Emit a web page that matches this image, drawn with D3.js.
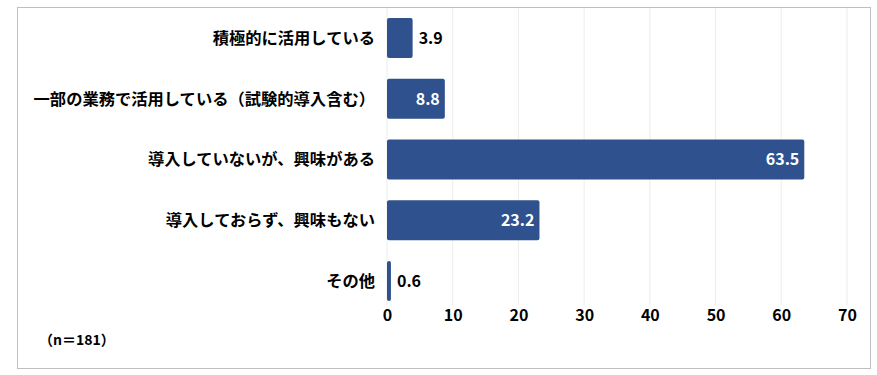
<!DOCTYPE html>
<html><head><meta charset="utf-8">
<script src="https://cdn.jsdelivr.net/npm/d3@7"></script>
<style>body{margin:0;background:#fff}svg{display:block}</style>
</head><body>
<script>
const categories = ["積極的に活用している","一部の業務で活用している（試験的導入含む）","導入していないが、興味がある","導入しておらず、興味もない","その他"];
const values = [3.9, 8.8, 63.5, 23.2, 0.6];
const ticks = [0,10,20,30,40,50,60,70];
const note = "（n＝181）";

const W = 877, H = 375;
const font = "'Noto Sans CJK JP','Noto Sans',sans-serif";
const svg = d3.select("body").append("svg").attr("width", W).attr("height", H);
svg.append("rect").attr("x",17.5).attr("y",7.5).attr("width",853).attr("height",361)
  .attr("fill","#fff").attr("stroke","#bfbfbf").attr("stroke-width",1);

const x = d3.scaleLinear().domain([0,70]).range([387,847]);
const y = d3.scaleBand().domain(categories).range([7.6,311.4]).paddingInner(0.34).paddingOuter(0.17);

const g = svg.append("g");
g.selectAll("line.grid").data(ticks).join("line").attr("class","grid")
  .attr("x1",d=>x(d)).attr("x2",d=>x(d)).attr("y1",8).attr("y2",305)
  .attr("stroke","#ececec").attr("stroke-width",1);

g.selectAll("rect.bar").data(values).join("rect").attr("class","bar")
  .attr("x",x(0)).attr("y",(d,i)=>y(categories[i]))
  .attr("width",d=>x(d)-x(0)).attr("height",y.bandwidth())
  .attr("rx",2).attr("fill","#2f528f");

g.selectAll("text.val").data(values).join("text").attr("class","val")
  .attr("x",d=> d>5 ? x(d)-5 : x(d)+6)
  .attr("y",(d,i)=>y(categories[i])+y.bandwidth()/2)
  .attr("dy","0.36em").attr("text-anchor",d=>d>5?"end":"start")
  .attr("fill",d=>d>5?"#fff":"#000")
  .style("font-family",font).style("font-weight","bold").style("font-size","16px")
  .text(d=>d.toFixed(1));

g.selectAll("text.cat").data(categories).join("text").attr("class","cat")
  .attr("x",375).attr("y",d=>y(d)+y.bandwidth()/2).attr("dy","0.36em")
  .attr("text-anchor","end").attr("fill","#000")
  .style("font-family",font).style("font-weight","bold").style("font-size","16.3px")
  .text(d=>d);

const axis = d3.axisBottom(x).tickValues(ticks).tickSize(0).tickPadding(0);
const ax = svg.append("g").attr("transform","translate(0,310)").call(axis);
ax.select(".domain").remove();
ax.selectAll("text").attr("dy","0.71em").attr("y",0)
  .style("font-family",font).style("font-weight","bold").style("font-size","16px").attr("fill","#000");

svg.append("text").attr("x",39).attr("y",340).attr("dy","0.36em")
  .style("font-family",font).style("font-weight","bold").style("font-size","14px")
  .text(note);
</script>
</body></html>
